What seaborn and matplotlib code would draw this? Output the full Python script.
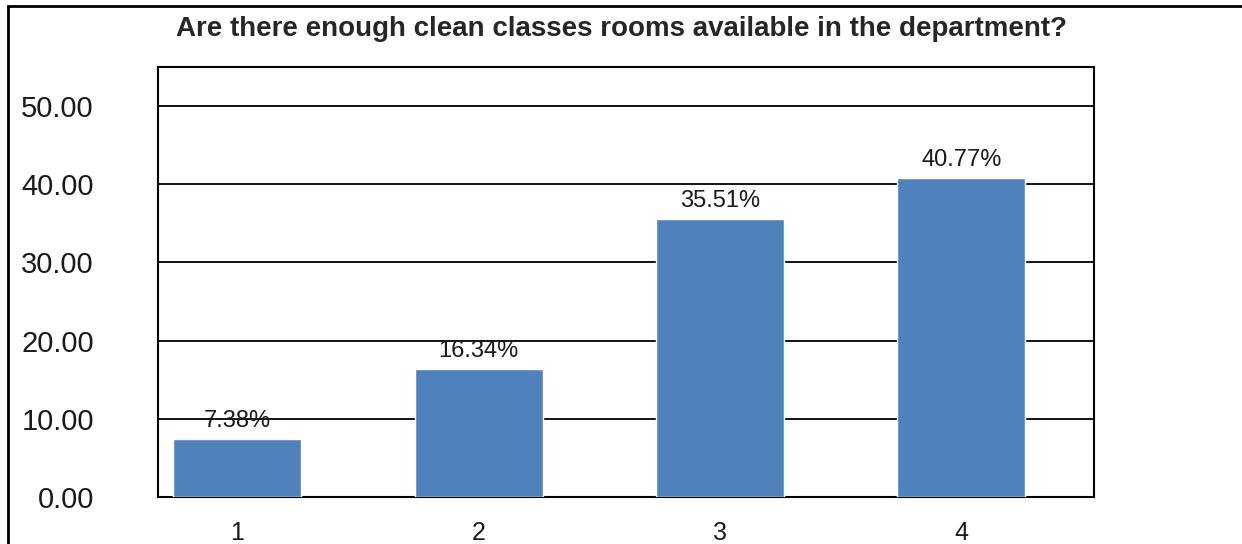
import pandas as pd
import matplotlib.pyplot as plt
import seaborn as sns
from matplotlib.patches import Rectangle

# survey answers (1-4) and the share of responses in each
answers = ["1", "2", "3", "4"]
percent = [7.38, 16.34, 35.51, 40.77]
title = "Are there enough clean classes rooms available in the department?"

data = pd.DataFrame({"answer": answers, "percent": percent})

sns.set_style("white")
plt.rcParams['font.family'] = ['Liberation Sans', 'DejaVu Sans']

fig = plt.figure(figsize=(12.42, 5.44), dpi=100)
ax = fig.add_axes([0.127, 0.0864, 0.754, 0.791])

sns.barplot(data=data, x="answer", y="percent", color="#4F81BD", saturation=1,
            width=0.53, ax=ax, zorder=3)

ax.set_ylim(0, 55)
ax.set_xlim(-0.33, 3.55)
ax.set_yticks([0, 10, 20, 30, 40, 50])
ax.set_yticklabels([f"{v:.2f}" for v in ax.get_yticks()], fontsize=21, color="#1a1a1a")
ax.tick_params(axis="y", length=0, pad=46)
ax.tick_params(axis="x", length=0, pad=17, labelsize=18, labelcolor="#1a1a1a")
ax.set_xlabel("")
ax.set_ylabel("")
ax.yaxis.grid(True, color="black", linewidth=1.3, zorder=0)
ax.set_axisbelow(True)
for s in ax.spines.values():
    s.set_visible(True)
    s.set_color("black")
    s.set_linewidth(1.5)

for p, v in zip(ax.patches, percent):
    ax.annotate(f"{v:.2f}%", (p.get_x() + p.get_width() / 2, p.get_height()),
                xytext=(0, 5), textcoords="offset points", ha="center", va="bottom",
                fontsize=17, color="#1a1a1a")

fig.text(0.5, 0.946, title, ha="center", va="center", fontsize=20, fontweight="bold")

# outer chart frame (cropped on the right and bottom)
fig.patches.append(Rectangle((8 / 1242, -0.1), 1.2, 0.1 + 1 - 6 / 544, transform=fig.transFigure,
                             fill=False, edgecolor="black", linewidth=2, zorder=0))

fig.savefig("out.png", dpi=100)
